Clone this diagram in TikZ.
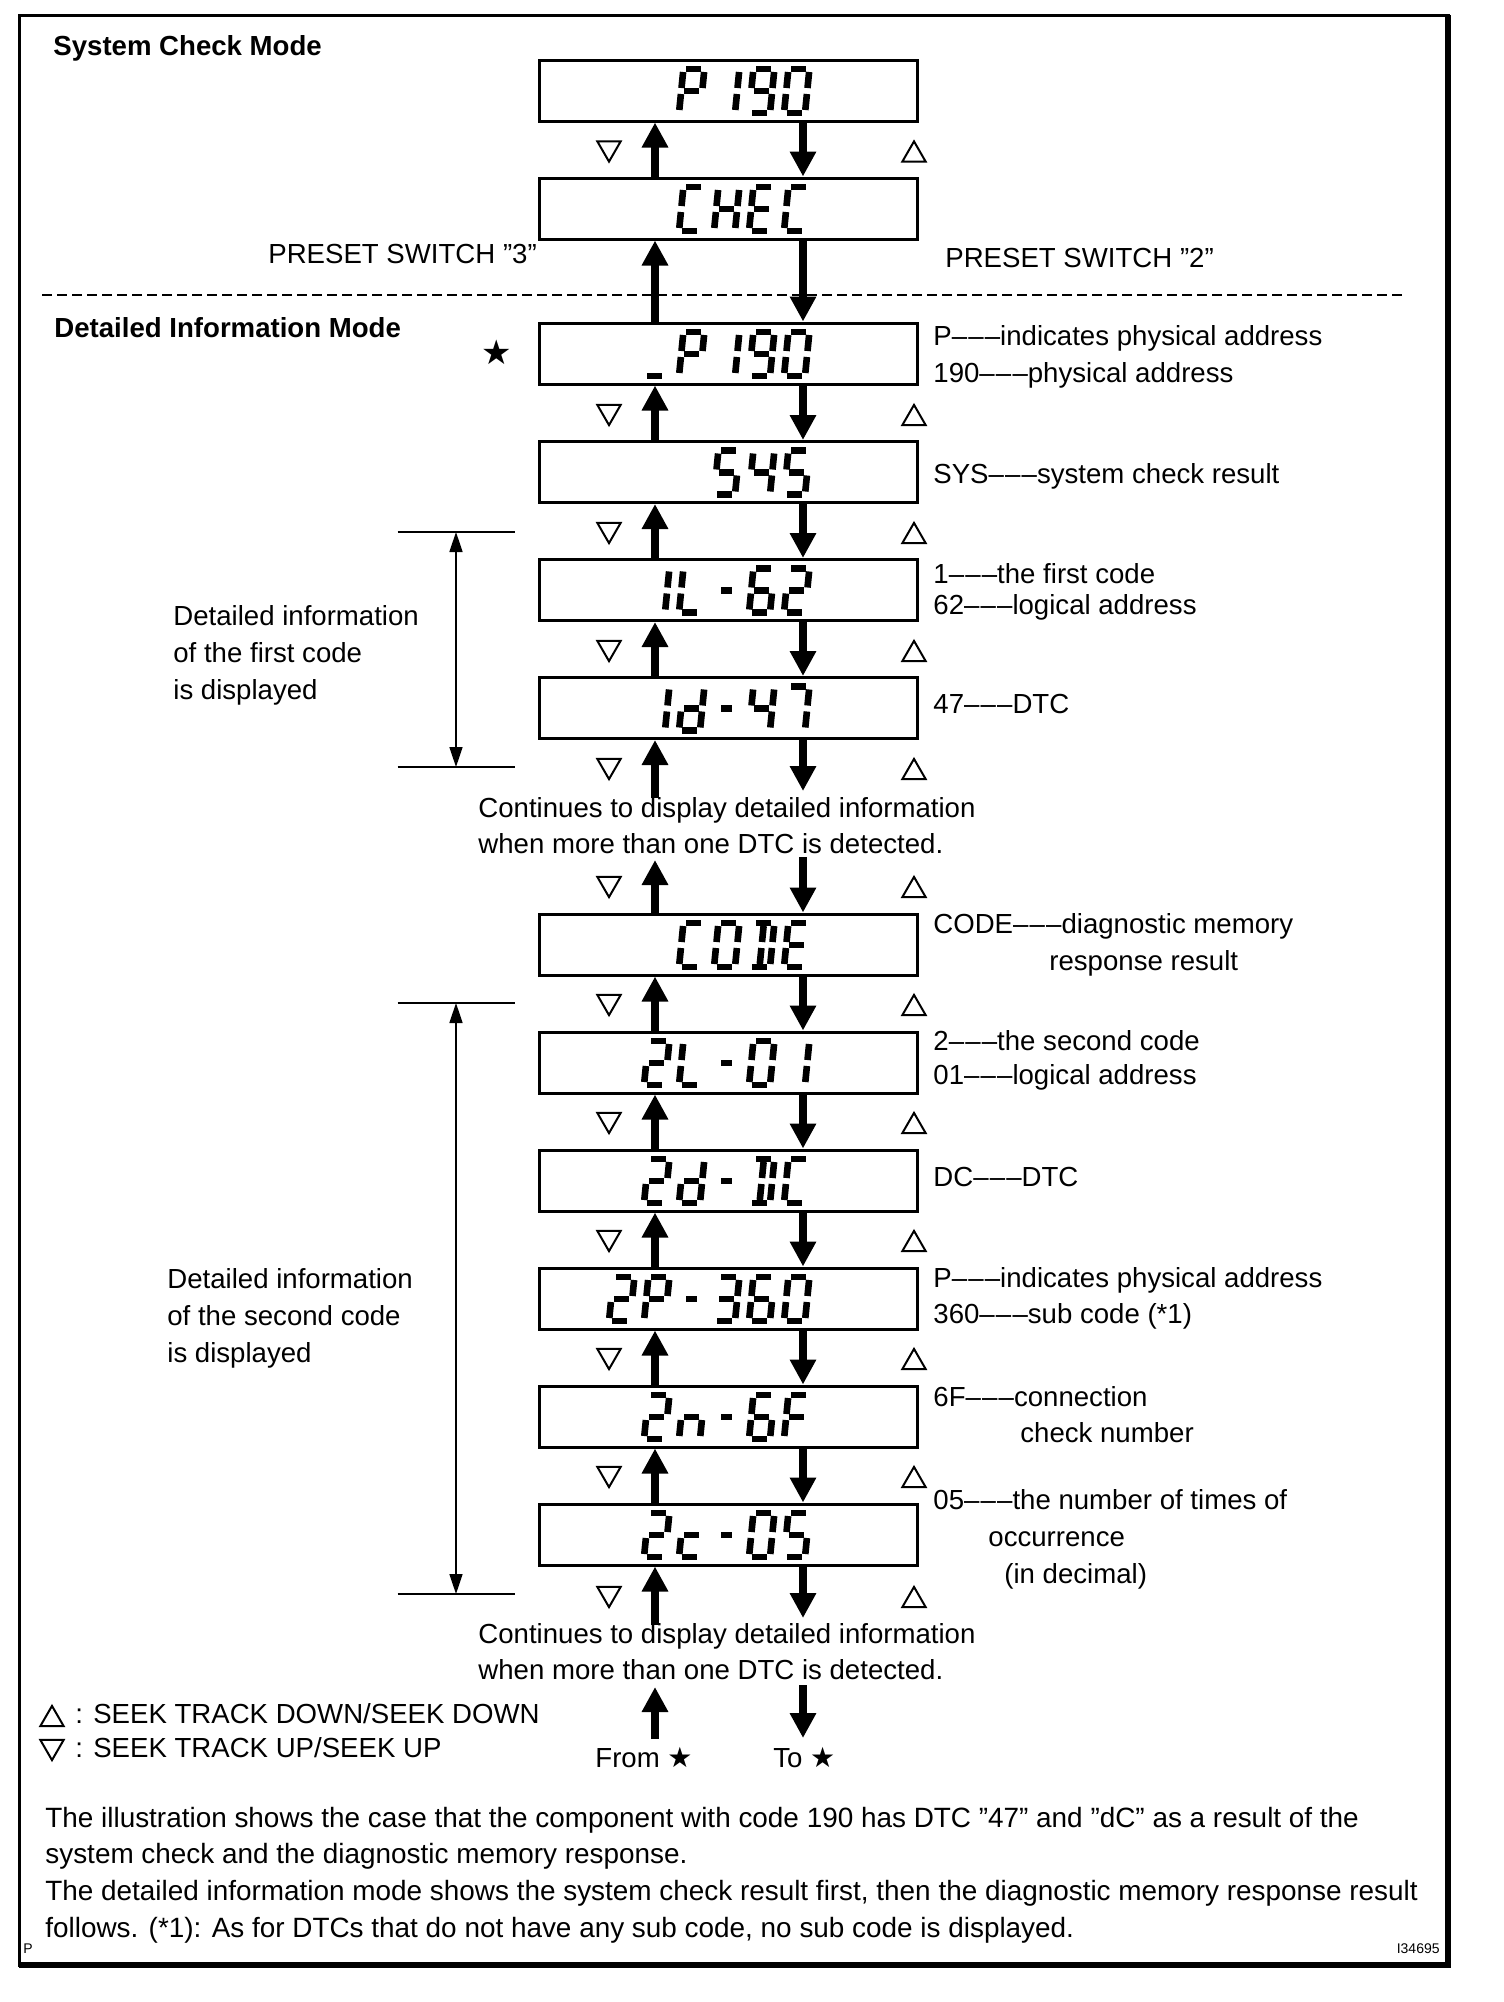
\documentclass[tikz,border=0pt]{standalone}
\usepackage{fontspec}
\setmainfont{Liberation Sans}
\newfontfamily\symfont{DejaVu Sans}
\usetikzlibrary{arrows.meta,shapes.geometric}

\tikzstyle{lcd}=[draw, line width=1.5pt, minimum width=189pt, minimum height=30.5pt, inner sep=0pt]
\tikzstyle{seg}=[line width=3.3pt]
\tikzstyle{flow}=[line width=4pt, -{Triangle[width=12.5pt,length=12.5pt]}]
\tikzstyle{span}=[line width=0.8pt, {Triangle[width=6.5pt,length=10pt]}-{Triangle[width=6.5pt,length=10pt]}]
\tikzstyle{txt}=[font=\fontsize{13.8}{18}\selectfont, inner sep=0pt, anchor=base west]
\tikzstyle{head}=[txt, font=\fontsize{13.8}{18}\selectfont\bfseries]
\tikzstyle{triup}=[regular polygon, regular polygon sides=3, draw, line width=1pt, minimum size=13.5pt, inner sep=0pt, yshift=-1.7pt]
\tikzstyle{tridn}=[regular polygon, regular polygon sides=3, shape border rotate=180, draw, line width=1pt, minimum size=13.5pt, inner sep=0pt, yshift=1.7pt]

% seven segment pieces
\newcommand\lcdsega{\draw[seg] (3,44) -- (18,44);}
\newcommand\lcdsegb{\draw[seg] (21,41) -- (21,25);}
\newcommand\lcdsegc{\draw[seg] (21,19) -- (21,3);}
\newcommand\lcdsegd{\draw[seg] (3,0) -- (18,0);}
\newcommand\lcdsege{\draw[seg] (0,19) -- (0,3);}
\newcommand\lcdsegf{\draw[seg] (0,41) -- (0,25);}
\newcommand\lcdsegg{\draw[seg] (3,22) -- (18,22);}
\newcommand\lcdsegm{\draw[seg] (5,22) -- (16,22);}
\newcommand\lcdsegi{\draw[seg] (10.5,41) -- (10.5,25);}
\newcommand\lcdsegj{\draw[seg] (10.5,19) -- (10.5,3);}
\newcommand\lcddef[2]{\expandafter\def\csname lcdch#1\endcsname{#2}}
\lcddef{0}{a,b,c,d,e,f}
\lcddef{1}{b,c}
\lcddef{2}{a,b,d,e,g}
\lcddef{3}{a,b,c,d,g}
\lcddef{4}{b,c,f,g}
\lcddef{5}{a,c,d,f,g}
\lcddef{6}{a,c,d,e,f,g}
\lcddef{7}{a,b,c}
\lcddef{9}{a,b,c,d,f,g}
\lcddef{C}{a,d,e,f}
\lcddef{D}{a,b,c,d,i,j}
\lcddef{E}{a,d,e,f,g}
\lcddef{F}{a,e,f,g}
\lcddef{H}{b,c,e,f,g}
\lcddef{L}{d,e,f}
\lcddef{P}{a,b,e,f,g}
\lcddef{c}{d,e,g}
\lcddef{d}{b,c,d,e,g}
\lcddef{n}{c,e,g}
\lcddef{u}{d}
\lcddef{-}{m}
\newcommand\lcdshow[2]{%
  \foreach \cell/\lc in {#2}{%
    \expandafter\let\expandafter\lcdsegs\csname lcdch\lc\endcsname
    \begin{scope}[shift={(#1.center)}, shift={({55.5+(\cell-5)*35},22.5)}, x=0.5pt, y=0.5pt, xslant=0.1]
      \foreach \sg in \lcdsegs {\csname lcdseg\sg\endcsname}
    \end{scope}}}
\newcommand\dsh{\textendash\kern0.6pt\textendash\kern0.6pt\textendash}

\begin{document}
\begin{tikzpicture}[x=0.5pt, y=-0.5pt]
    \useasboundingbox (0,0) rectangle (1504,2002);
    \fill[white] (0,0) rectangle (1504,2002);
    % frame
    \draw[line width=1.5pt] (19,15) rectangle (1448,1965);
    \draw[line width=2.8pt] (19,1965) -- (1448,1965) -- (1448,15);

    \node[head] (sysmode) at (53,55) {System Check Mode};
    \node[head] (detmode) at (54,337) {Detailed Information Mode};
    \draw[line width=1pt, dash pattern=on 5pt off 2.5pt] (42,295) -- (1402,295);
    \node[txt] (sw3) at (268,263) {PRESET SWITCH ”3”};
    \node[txt] (sw2) at (945,267) {PRESET SWITCH ”2”};

    % displays
    \foreach \n/\y in {p190/90.5, chec/208.5, sp190/353.5, sys/472, fl/590, fd/708, code/944.5, sl/1062.5, sd/1180.5, sp/1298.5, sn/1416.5, sc/1534.5}
      \node[lcd] (\n) at (728.5,\y) {};
    \lcdshow{p190}{2/P,3/1,4/9,5/0}
    \lcdshow{chec}{2/C,3/H,4/E,5/C}
    \lcdshow{sp190}{1/u,2/P,3/1,4/9,5/0}
    \lcdshow{sys}{3/5,4/4,5/5}
    \lcdshow{fl}{1/1,2/L,3/-,4/6,5/2}
    \lcdshow{fd}{1/1,2/d,3/-,4/4,5/7}
    \lcdshow{code}{2/C,3/0,4/D,5/E}
    \lcdshow{sl}{1/2,2/L,3/-,4/0,5/1}
    \lcdshow{sd}{1/2,2/d,3/-,4/D,5/C}
    \lcdshow{sp}{0/2,1/P,2/-,3/3,4/6,5/0}
    \lcdshow{sn}{1/2,2/n,3/-,4/6,5/F}
    \lcdshow{sc}{1/2,2/c,3/-,4/0,5/5}
    \node[font=\symfont\fontsize{17}{17}\selectfont, inner sep=0pt] (mark) at (497,352) {★};

    % up and down steps
    \coordinate (ux) at (655,0);
    \coordinate (dx) at (803,0);
    \foreach \hi/\lo in {p190/chec, chec/sp190, sp190/sys, sys/fl, fl/fd, code/sl, sl/sd, sd/sp, sp/sn, sn/sc} {
      \path[flow] (\lo.north -| ux) edge (\hi.south -| ux);
      \path[flow] (\hi.south -| dx) edge (\lo.north -| dx);
    }
    \coordinate (fdup) at (655,798);   \coordinate (fddn) at (803,791);
    \coordinate (codeup) at (655,860); \coordinate (codedn) at (803,857);
    \coordinate (scup) at (655,1625);  \coordinate (scdn) at (803,1618);
    \coordinate (fromb) at (655,1739); \coordinate (fromt) at (655,1687);
    \coordinate (tot) at (803,1685);   \coordinate (tob) at (803,1738);
    \path[flow] (fdup) edge (fd.south -| ux) (fd.south -| dx) edge (fddn);
    \path[flow] (code.north -| ux) edge (codeup) (codedn) edge (code.north -| dx);
    \path[flow] (scup) edge (sc.south -| ux) (sc.south -| dx) edge (scdn);
    \path[flow] (fromb) edge (fromt) (tot) edge (tob);

    \foreach \y in {151.5,415,533,651,769,887,1005,1123,1241,1359,1477,1597} {
      \node[tridn] (dn\y) at (609,\y) {};
      \node[triup] (up\y) at (914,\y) {};
    }

    % notes on the right
    \foreach \y/\lbl in {345/{P\dsh indicates physical address}, 382/{190\dsh physical address},
        483/{SYS\dsh system check result}, 583/{1\dsh the first code}, 614/{62\dsh logical address},
        713/{47\dsh DTC}, 933/{CODE\dsh diagnostic memory}, 1050/{2\dsh the second code},
        1084/{01\dsh logical address}, 1186/{DC\dsh DTC}, 1287/{P\dsh indicates physical address},
        1323/{360\dsh sub code (*1)}, 1406/{6F\dsh connection}, 1509/{05\dsh the number of times of}}
      \node[txt] (r\y) at (933,\y) {\lbl};
    \node[txt] (r970) at (1049,970) {response result};
    \node[txt] (r1442) at (1020,1442) {check number};
    \node[txt] (r1546) at (988,1546) {occurrence};
    \node[txt] (r1583) at (1004,1583) {(in decimal)};

    % ranges on the left
    \coordinate (bat) at (456,532);  \coordinate (bab) at (456,767);
    \coordinate (bbt) at (456,1003); \coordinate (bbb) at (456,1594);
    \foreach \p in {bat,bab,bbt,bbb}
      \draw[line width=1.4pt] (\p) +(-58.5,0) -- +(58.5,0);
    \draw[span] (bat) -- (bab);
    \draw[span] (bbt) -- (bbb);
    \foreach \y/\lbl in {625/{Detailed information}, 662/{of the first code}, 699/{is displayed}}
      \node[txt] (la\y) at (173,\y) {\lbl};
    \foreach \y/\lbl in {1288/{Detailed information}, 1325/{of the second code}, 1362/{is displayed}}
      \node[txt] (lb\y) at (167,\y) {\lbl};

    \foreach \y in {817,1643} {
      \node[txt] (cont\y) at (478,\y) {Continues to display detailed information};
      \node[txt] (when\y) at (478,\y+36) {when more than one DTC is detected.};
    }
    \node[txt] (from) at (595,1767) {From {\symfont\fontsize{14}{14}\selectfont ★}};
    \node[txt] (to) at (773,1767) {To {\symfont\fontsize{14}{14}\selectfont ★}};

    % legend
    \node[triup] (lgup) at (52,1716) {};
    \node[tridn] (lgdn) at (52,1750) {};
    \node[txt] (lgdown) at (75,1723) {: SEEK TRACK DOWN/SEEK DOWN};
    \node[txt] (lgupt) at (75,1757) {: SEEK TRACK UP/SEEK UP};

    \foreach \y/\lbl in {1827/{The illustration shows the case that the component with code 190 has DTC ”47” and ”dC” as a result of the},
        1863/{system check and the diagnostic memory response.},
        1900/{The detailed information mode shows the system check result first, then the diagnostic memory response result},
        1937/{follows. (*1): As for DTCs that do not have any sub code, no sub code is displayed.}}
      \node[txt, font=\fontsize{13.95}{18}\selectfont] (para\y) at (45,\y) {\lbl};
    \node[font=\fontsize{7}{7}\selectfont, inner sep=0pt, anchor=base west] (pmark) at (23,1953) {P};
    \node[font=\fontsize{7}{7}\selectfont, inner sep=0pt, anchor=base east] (figno) at (1440,1953) {I34695};
\end{tikzpicture}
\end{document}
